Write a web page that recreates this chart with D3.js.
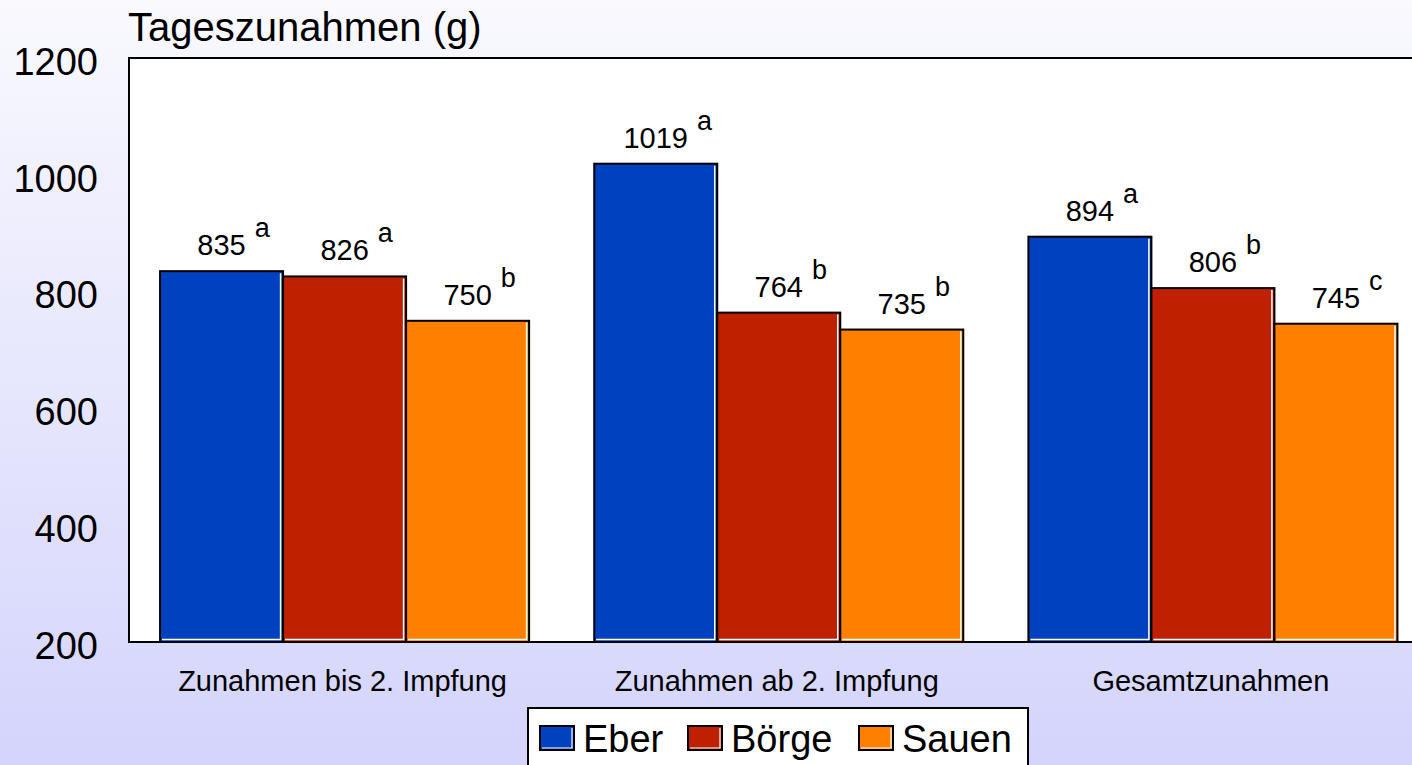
<!DOCTYPE html>
<html>
<head>
<meta charset="utf-8">
<script src="https://cdn.jsdelivr.net/npm/d3@7"></script>
<style>
  body { margin: 0; overflow: hidden; }
  text { font-family: "Liberation Sans", Arial, sans-serif; fill: #000; }
</style>
</head>
<body>
<div id="chart"></div>
<script>
// data
var categories = ["Zunahmen bis 2. Impfung", "Zunahmen ab 2. Impfung", "Gesamtzunahmen"];
var series = ["Eber", "Börge", "Sauen"];
var colors = ["#0041c0", "#bf2000", "#ff8000"];
var eber = [835, 1019, 894];
var boerge = [826, 764, 806];
var sauen = [750, 735, 745];
var letters = [["a", "a", "b"], ["a", "b", "b"], ["a", "b", "c"]]; // per category: Eber, Börge, Sauen
var yTicks = [200, 400, 600, 800, 1000, 1200];

var values = [eber, boerge, sauen];

var W = 1412, H = 765;
var plot = {left: 129, top: 58, bottom: 642, right: 1430};

var svg = d3.select("#chart").append("svg")
    .attr("width", W)
    .attr("height", H);

// background gradient
var grad = svg.append("defs").append("linearGradient")
    .attr("id", "bg").attr("x1", 0).attr("y1", 0).attr("x2", 0).attr("y2", 1);
grad.append("stop").attr("offset", "0%").attr("stop-color", "#f9f9fe");
grad.append("stop").attr("offset", "100%").attr("stop-color", "#d4d4fc");
svg.append("rect").attr("width", W).attr("height", H).attr("fill", "url(#bg)");

// scales
var x0 = d3.scaleBand()
    .domain(categories)
    .range([plot.left - 1.5, plot.right]);
var bw = x0.bandwidth();
var x1 = d3.scaleBand()
    .domain(series)
    .range([bw * 0.075, bw * 0.925]);
var y = d3.scaleLinear()
    .domain([200, 1200])
    .range([plot.bottom, plot.top]);

// plot area
svg.append("rect")
    .attr("x", plot.left).attr("y", plot.top)
    .attr("width", plot.right - plot.left).attr("height", plot.bottom - plot.top)
    .attr("fill", "#fff").attr("stroke", "#000").attr("stroke-width", 2);

// y axis
var yAxis = svg.append("g")
    .attr("transform", "translate(98,0)")
    .call(d3.axisLeft(y).tickValues(yTicks).tickFormat(d3.format("d")).tickSize(0).tickPadding(0));
yAxis.select(".domain").remove();
yAxis.selectAll("text")
    .attr("font-size", 38)
    .attr("font-family", "Liberation Sans, Arial, sans-serif")
    .attr("dy", "0.43em");

// title
svg.append("text")
    .attr("x", 128).attr("y", 41)
    .attr("font-size", 40)
    .text("Tageszunahmen (g)");

// bars
var groups = svg.selectAll(".grp")
    .data(categories)
    .enter().append("g")
    .attr("class", "grp")
    .attr("transform", function(d) { return "translate(" + x0(d) + ",0)"; });

groups.each(function(cat, ci) {
  var g = d3.select(this);
  series.forEach(function(s, si) {
    var v = values[si][ci];
    var bx = x1(s), by = y(v), w = x1.bandwidth(), h = plot.bottom - y(v);
    g.append("rect")
        .attr("x", bx).attr("y", by)
        .attr("width", w).attr("height", h)
        .attr("fill", colors[si])
        .attr("stroke", "#000").attr("stroke-width", 2);
    // white inner edge on right and bottom
    g.append("path")
        .attr("d", "M" + (bx + w - 2.5) + "," + (by + 2) + "V" + (by + h - 2.5) + "H" + (bx + 2))
        .attr("fill", "none").attr("stroke", "#fff").attr("stroke-width", 1.5);

    var cx = bx + w / 2;
    var t = g.append("text")
        .attr("x", cx).attr("y", by - 16)
        .attr("text-anchor", "middle")
        .attr("font-size", 29)
        .text(v);
    var tw = t.node().getComputedTextLength();
    g.append("text")
        .attr("x", cx + tw / 2 + 9).attr("y", by - 34)
        .attr("font-size", 27)
        .text(letters[ci][si]);
  });
});

// category labels
svg.selectAll(".cat")
    .data(categories)
    .enter().append("text")
    .attr("class", "cat")
    .attr("x", function(d) { return x0(d) + bw / 2 - 2; })
    .attr("y", 691)
    .attr("text-anchor", "middle")
    .attr("font-size", 29)
    .text(function(d) { return d; });

// legend
var legend = svg.append("g");
legend.append("rect")
    .attr("x", 528).attr("y", 708)
    .attr("width", 500).attr("height", 80)
    .attr("fill", "#fff").attr("stroke", "#000").attr("stroke-width", 2);
var legX = [540, 688, 859];
series.forEach(function(s, i) {
  legend.append("rect")
      .attr("x", legX[i]).attr("y", 726)
      .attr("width", 34).attr("height", 24)
      .attr("fill", colors[i]).attr("stroke", "#000").attr("stroke-width", 2);
  legend.append("path")
      .attr("d", "M" + (legX[i] + 32) + "," + 728 + "V" + 748 + "H" + (legX[i] + 2))
      .attr("fill", "none").attr("stroke", "#fff").attr("stroke-width", 1.2);
  legend.append("text")
      .attr("x", legX[i] + 43).attr("y", 752)
      .attr("font-size", 38)
      .text(s);
});
</script>
</body>
</html>
